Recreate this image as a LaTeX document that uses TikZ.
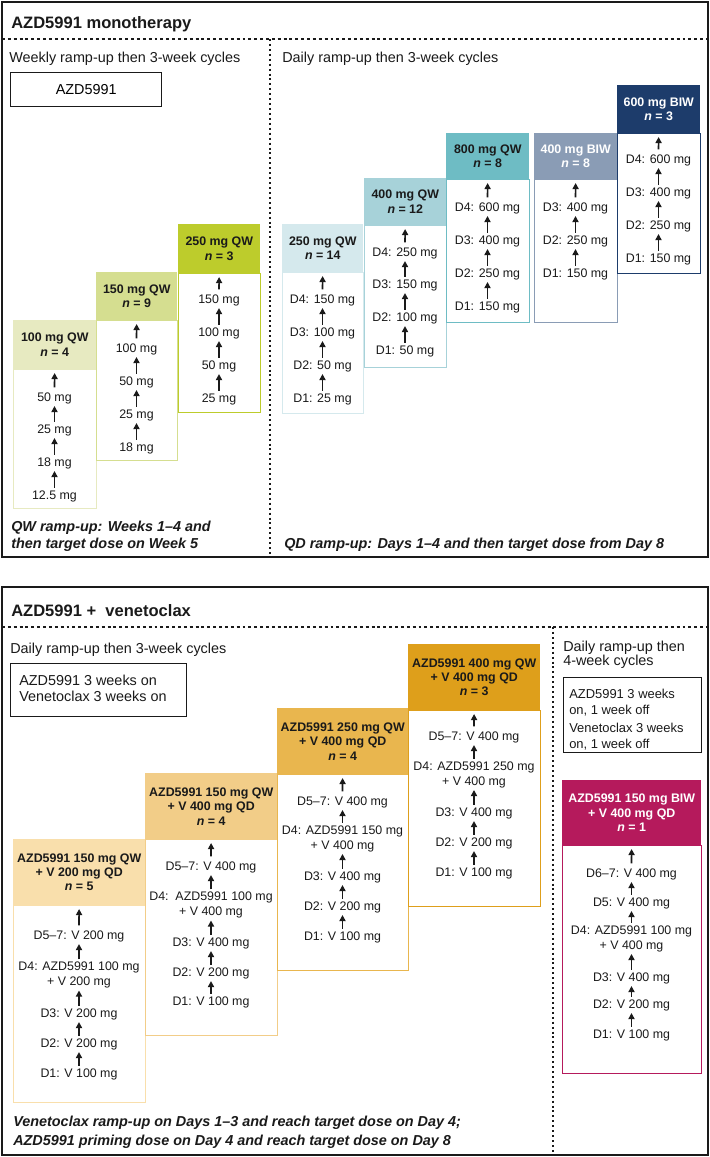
\documentclass[tikz,border=0pt]{standalone}
\usepackage{fontspec}
\setmainfont{Liberation Sans}
\usetikzlibrary{arrows.meta}
\definecolor{wa}{HTML}{E7EAC1}
\definecolor{wb}{HTML}{D5DE90}
\definecolor{wc}{HTML}{BDCC2C}
\definecolor{da}{HTML}{D5E9ED}
\definecolor{db}{HTML}{A7D2D9}
\definecolor{dc}{HTML}{6EBCC4}
\definecolor{dd}{HTML}{8A9CB5}
\definecolor{de}{HTML}{1D3C6B}
\definecolor{ca}{HTML}{F9DFAC}
\definecolor{cb}{HTML}{F2CD88}
\definecolor{cc}{HTML}{E9B64E}
\definecolor{cd}{HTML}{DE9F1B}
\definecolor{mg}{HTML}{B51A5C}
\definecolor{ink}{HTML}{1A1A1A}
\newcommand\fbody{\fontsize{9.3}{11.2}\selectfont}
\newcommand\fhead{\bfseries\fontsize{9.3}{10.8}\selectfont}
\newcommand\fsub{\fontsize{10.8}{11.3}\selectfont}
\newcommand\ftitle{\bfseries\fontsize{12.4}{14}\selectfont}
\newcommand\fnote{\bfseries\itshape\fontsize{10.8}{13}\selectfont}
\newcommand\finfo{\fontsize{9.7}{12}\selectfont}
\tikzset{
  panel/.style={draw=ink, line width=1.9pt},
  hdiv/.style={draw=ink, line width=0.8pt, dash pattern=on 2.2pt off 2.2pt},
  vdiv/.style={draw=ink, line width=0.8pt, dash pattern=on 1.5pt off 2.2pt},
  bodybox/.style={anchor=north west, inner sep=0pt, line width=0.8pt, fill=white},
  headbox/.style={anchor=north west, inner sep=0pt, align=center, font=\fhead},
  txt/.style={inner sep=0pt, align=center, font=\fbody, text=ink},
  arr/.style={draw=ink, -{Triangle[width=4.6pt,length=4.6pt]}, line width=1.25pt, shorten >=1.6pt, shorten <=1.8pt},
  toparr/.style={arr, shorten >=2.6pt, shorten <=3.6pt},
  lbl/.style={inner sep=0pt, anchor=base west, text=ink},
  infobox/.style={draw=ink, line width=1.1pt, anchor=north west, inner sep=0pt}
}
% #1 name #2 x1 #3 x2 #4 ytop #5 yhead #6 ybot #7 colour #8 text colour #9 header text
\newcommand\dbox[9]{%
  \node[bodybox, draw=#7, minimum width={(#3-#2)*0.75pt}, minimum height={(#6-#5)*0.75pt}] (#1-b) at (#2,#5) {};
  \node[headbox, fill=#7, text=#8, minimum width={(#3-#2)*0.75pt}, minimum height={(#5-#4)*0.75pt}] (#1-0) at (#2,#4) {#9};
}
% #1 name #2 x centre #3 list of y/text (top to bottom)
\newcommand\col[3]{%
  \foreach \yy/\tx [count=\i from 1] in {#3} {%
    \node[txt] (#1-\i) at (#2,\yy) {\tx};
    \pgfmathtruncatemacro\j{\i-1}%
    \ifnum\i=1 \draw[toparr] (#1-\i) -- (#1-\j);\else \draw[arr] (#1-\i) -- (#1-\j);\fi
  }%
}
\begin{document}
\begin{tikzpicture}[x=0.75pt,y=-0.75pt]
\useasboundingbox (0,0) rectangle (710,1157);
\fill[white] (0,0) rectangle (710,1157);

% ---------------- top panel ----------------
\draw[panel] (2,2) rectangle (708,557);
\coordinate (t1) at (2,39); \coordinate (t2) at (708,39);
\coordinate (tv1) at (270,39); \coordinate (tv2) at (270,557);
\draw[hdiv] (t1) -- (t2);
\draw[vdiv] (tv1) -- (tv2);
\node[lbl, font=\ftitle] (title1) at (11,28.5) {AZD5991 monotherapy};
\node[lbl, font=\fsub] (sub1) at (9,62) {Weekly ramp-up then 3-week cycles};
\node[lbl, font=\fsub] (sub2) at (282,62) {Daily ramp-up then 3-week cycles};
\node[infobox, minimum width={151*0.75pt}, minimum height={34*0.75pt}, font=\fsub] (azd) at (10,72) {AZD5991};

\dbox{wA}{13}{96}{320}{369}{508}{wa}{ink}{100 mg QW\\{\itshape n} = 4}
\dbox{wB}{96}{177}{272}{320}{460}{wb}{ink}{150 mg QW\\{\itshape n} = 9}
\dbox{wC}{178}{260}{224}{273}{412}{wc}{ink}{250 mg QW\\{\itshape n} = 3}
\col{wA}{54.5}{398/50 mg,430/25 mg,463/18 mg,496/12.5 mg}
\col{wB}{136.5}{349/100 mg,382/50 mg,415/25 mg,448/18 mg}
\col{wC}{219}{300/150 mg,333/100 mg,366/50 mg,399/25 mg}

\dbox{dA}{282}{363}{224}{272}{413}{da}{ink}{250 mg QW\\{\itshape n} = 14}
\dbox{dB}{364}{446}{178}{225}{367}{db}{ink}{400 mg QW\\{\itshape n} = 12}
\dbox{dC}{446}{529}{133}{179}{322}{dc}{ink}{800 mg QW\\{\itshape n} = 8}
\dbox{dD}{534}{617}{133}{179}{322}{dd}{white}{400 mg BIW\\{\itshape n} = 8}
\dbox{dE}{617}{700}{85}{133}{273}{de}{white}{600 mg BIW\\{\itshape n} = 3}
\col{dA}{322.5}{300/D4: 150 mg,333/D3: 100 mg,366/D2: 50 mg,399/D1: 25 mg}
\col{dB}{405}{253/D4: 250 mg,285/D3: 150 mg,318/D2: 100 mg,351/D1: 50 mg}
\col{dC}{487.5}{208/D4: 600 mg,241/D3: 400 mg,274/D2: 250 mg,307/D1: 150 mg}
\col{dD}{575.5}{208/D3: 400 mg,241/D2: 250 mg,274/D1: 150 mg}
\col{dE}{658.5}{160/D4: 600 mg,193/D3: 400 mg,226/D2: 250 mg,259/D1: 150 mg}

\node[lbl, font=\fnote] (n1a) at (11,531.7) {QW ramp-up: Weeks 1–4 and};
\node[lbl, font=\fnote] (n1b) at (11,548) {then target dose on Week 5};
\node[lbl, font=\fnote] (n2) at (284,548) {QD ramp-up: Days 1–4 and then target dose from Day 8};

% ---------------- bottom panel ----------------
\draw[panel] (2,587) rectangle (708,1155);
\coordinate (b1) at (2,627); \coordinate (b2) at (708,627);
\coordinate (bv1) at (553,627); \coordinate (bv2) at (553,1155);
\draw[hdiv] (b1) -- (b2);
\draw[vdiv] (bv1) -- (bv2);
\node[lbl, font=\ftitle] (title2) at (11,616.7) {AZD5991 + \ venetoclax};
\node[lbl, font=\fsub] (sub3) at (10,653) {Daily ramp-up then 3-week cycles};
\node[infobox, minimum width={176*0.75pt}, minimum height={53*0.75pt}] (onbox) at (10,663) {};
\node[lbl, font=\fsub] (on1) at (19,685) {AZD5991 3 weeks on};
\node[lbl, font=\fsub] (on2) at (19,701) {Venetoclax 3 weeks on};

\node[lbl, font=\fsub] (sub4a) at (563,651.7) {Daily ramp-up then};
\node[lbl, font=\fsub] (sub4b) at (563,665.7) {4-week cycles};
\node[infobox, minimum width={138*0.75pt}, minimum height={75*0.75pt}] (offbox) at (563,677) {};
\node[lbl, font=\finfo] (off1) at (569,698) {AZD5991 3 weeks};
\node[lbl, font=\finfo] (off2) at (569,714) {on, 1 week off};
\node[lbl, font=\finfo] (off3) at (569,732) {Venetoclax 3 weeks};
\node[lbl, font=\finfo] (off4) at (569,748) {on, 1 week off};

\dbox{cA}{13}{145}{839}{905}{1102}{ca}{ink}{AZD5991 150 mg QW\\+ V 200 mg QD\\{\itshape n} = 5}
\dbox{cB}{145}{277}{773}{839}{1035}{cb}{ink}{AZD5991 150 mg QW\\+ V 400 mg QD\\{\itshape n} = 4}
\dbox{cC}{277}{408}{708}{774}{970}{cc}{ink}{AZD5991 250 mg QW\\+ V 400 mg QD\\{\itshape n} = 4}
\dbox{cD}{408}{540}{644}{710}{906}{cd}{ink}{AZD5991 400 mg QW\\+ V 400 mg QD\\{\itshape n} = 3}
\dbox{mA}{562}{701}{780}{845}{1073}{mg}{white}{AZD5991 150 mg BIW\\+ V 400 mg QD\\{\itshape n} = 1}

\col{cA}{79}{936/D5–7: V 200 mg,975/{D4: AZD5991 100 mg\\+ V 200 mg},1014/D3: V 200 mg,1044/D2: V 200 mg,1074/D1: V 100 mg}
\col{cB}{211}{867/D5–7: V 400 mg,905/{D4:\ \ AZD5991 100 mg\\+ V 400 mg},943/D3: V 400 mg,973/D2: V 200 mg,1002/D1: V 100 mg}
\col{cC}{342.5}{802/D5–7: V 400 mg,838.5/{D4: AZD5991 150 mg\\+ V 400 mg},877/D3: V 400 mg,907/D2: V 200 mg,937/D1: V 100 mg}
\col{cD}{474}{737/D5–7: V 400 mg,774.5/{D4: AZD5991 250 mg\\+ V 400 mg},813/D3: V 400 mg,843/D2: V 200 mg,873/D1: V 100 mg}
\col{mA}{631.5}{874/D6–7: V 400 mg,903/D5: V 400 mg,938.5/{D4: AZD5991 100 mg\\+ V 400 mg},978/D3: V 400 mg,1005/D2: V 200 mg,1035/D1: V 100 mg}

\node[lbl, font=\fnote] (n3a) at (13,1126.7) {Venetoclax ramp-up on Days 1–3 and reach target dose on Day 4;};
\node[lbl, font=\fnote] (n3b) at (13,1145) {AZD5991 priming dose on Day 4 and reach target dose on Day 8};
\end{tikzpicture}
\end{document}
